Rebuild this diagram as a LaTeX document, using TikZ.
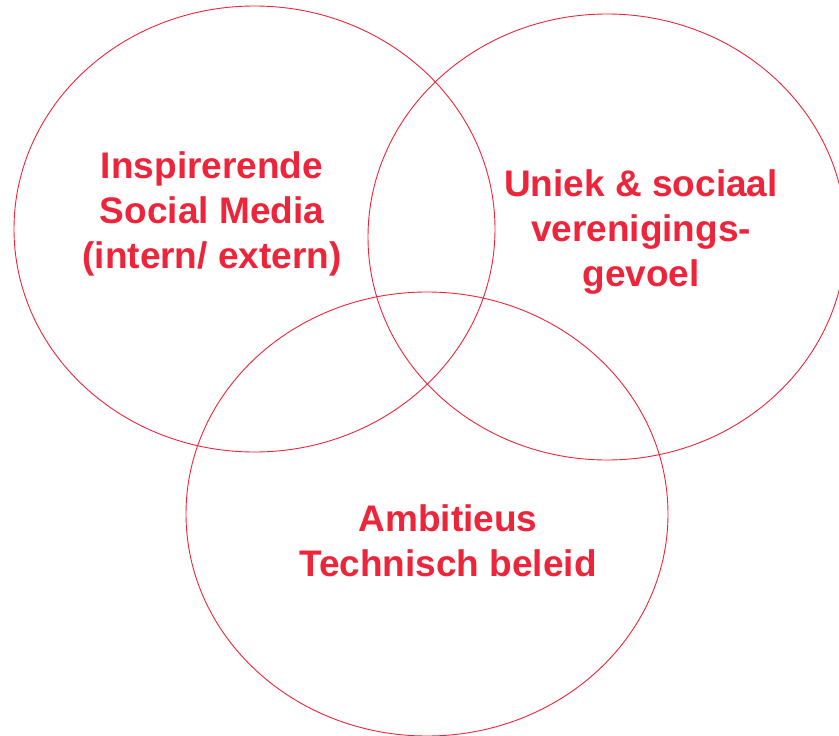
\documentclass[tikz,border=0pt]{standalone}
\usepackage{fontspec}
\setmainfont{Liberation Sans}
\usepackage{xcolor}
\definecolor{vennred}{RGB}{237,36,58}

\begin{document}
\begin{tikzpicture}[x=1pt, y=-1pt,
        vennring/.style={draw=vennred, line width=0.9pt},
        vennlabel/.style={text=vennred, align=center, inner sep=0pt,
            font=\fontsize{37}{45}\selectfont\bfseries}]
        \useasboundingbox (0, 0) rectangle (839, 736);
        \clip (0, 0) rectangle (839, 736);

        \draw [vennring] (254.5, 229) ellipse [x radius=240.5, y radius=223];
        \draw [vennring] (607, 237) ellipse [x radius=239, y radius=223];
        \draw [vennring] (427, 514) ellipse [x radius=241, y radius=222];

        \node [vennlabel] (media) at (212, 214) {Inspirerende\\Social Media\\(intern/ extern)};
        \node [vennlabel] (gevoel) at (641, 232) {Uniek \& sociaal\\verenigings-\\gevoel};
        \node [vennlabel] (beleid) at (448, 541) {Ambitieus\\Technisch beleid};
    \end{tikzpicture}
\end{document}
